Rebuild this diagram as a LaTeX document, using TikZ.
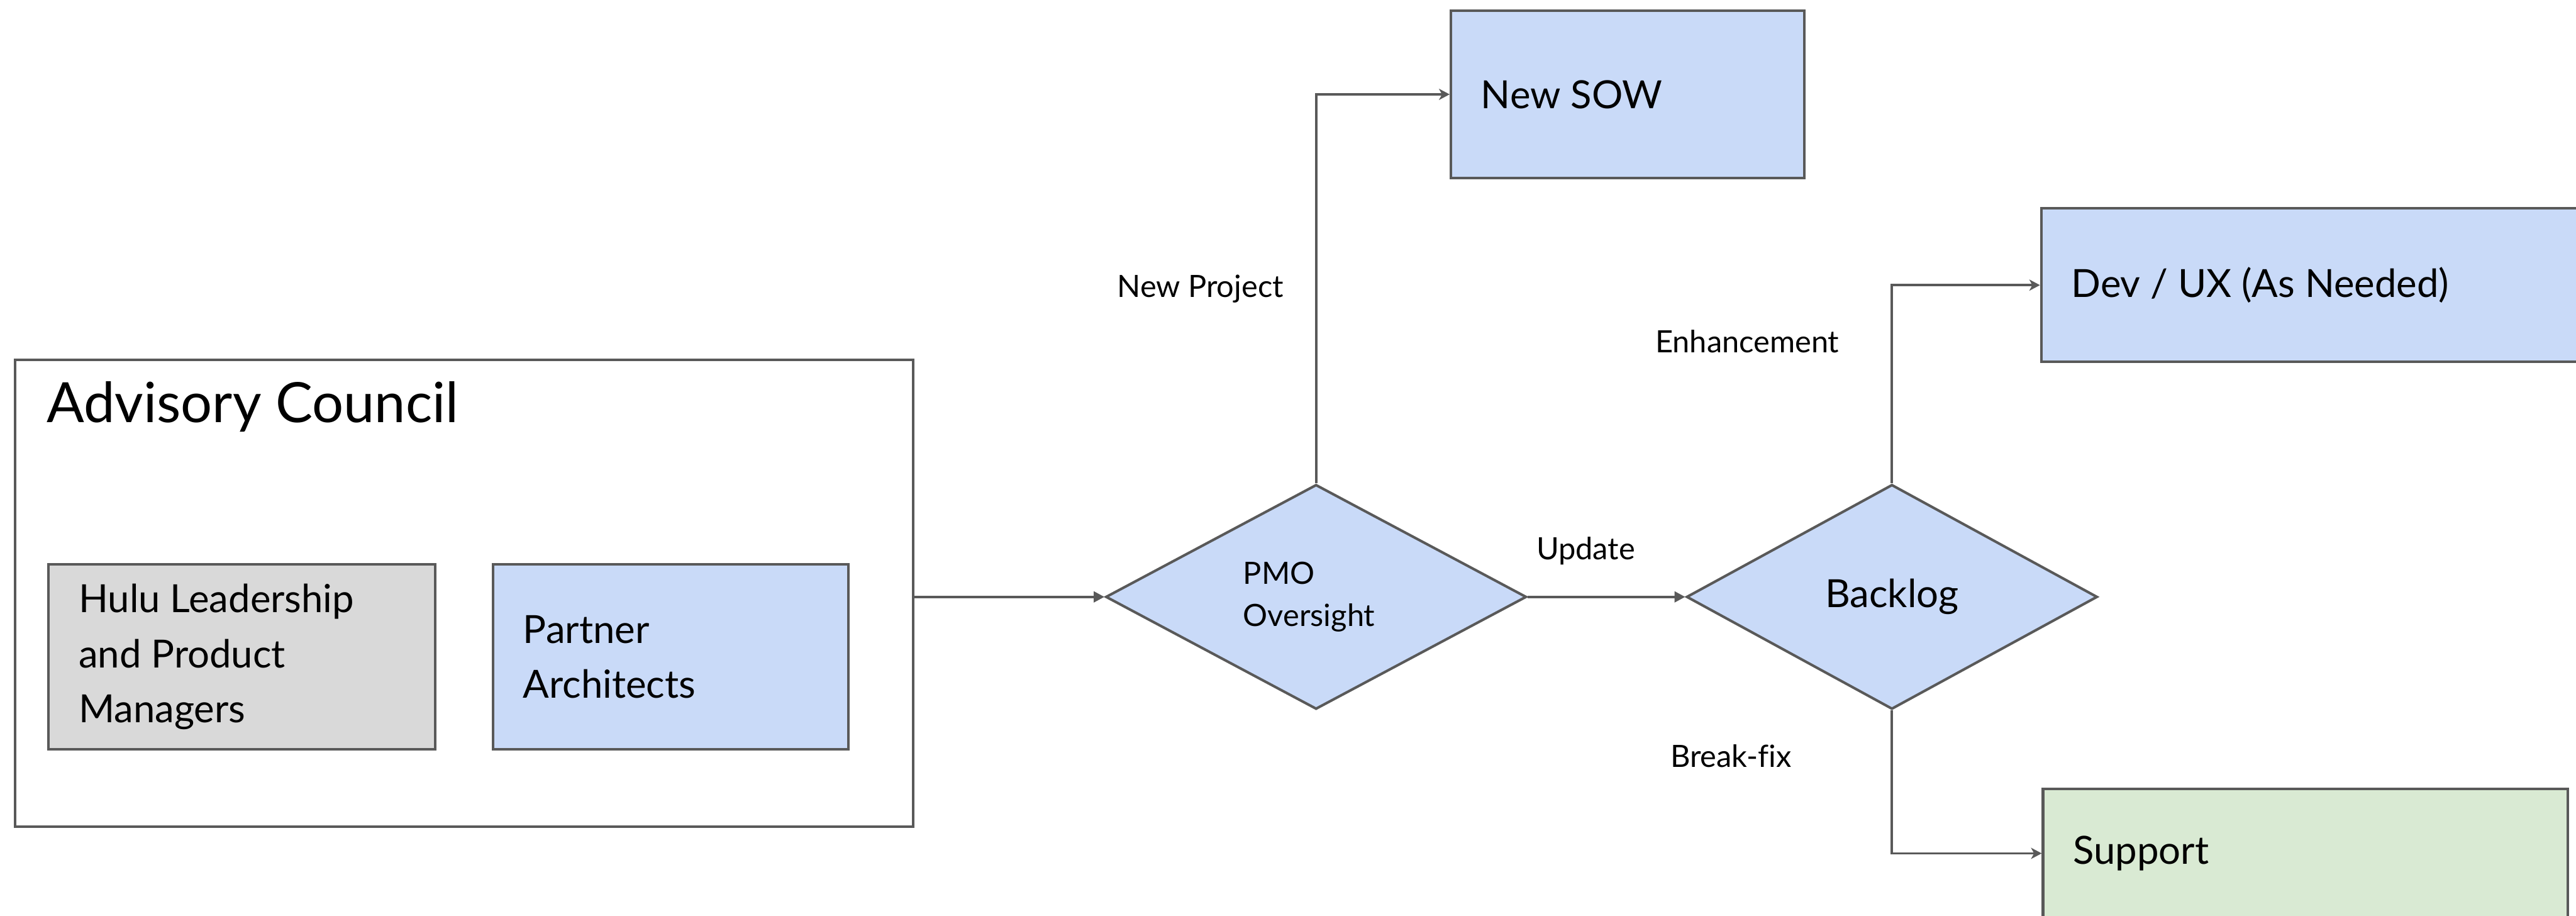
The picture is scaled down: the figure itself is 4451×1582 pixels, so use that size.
\documentclass[tikz,border=0pt]{standalone}
\usepackage{fontspec}
\setmainfont{Lato}[Ligatures=NoCommon]
\usetikzlibrary{arrows.meta,shapes.geometric}

\definecolor{edge}{HTML}{595959}
\definecolor{bluefill}{HTML}{C9DAF8}
\definecolor{grayfill}{HTML}{D9D9D9}
\definecolor{greenfill}{HTML}{D9EAD3}

\tikzset{
  bigtext/.style={font=\fontsize{16.75pt}{23.75pt}\selectfont},
  smalltext/.style={font=\fontsize{13.25pt}{18pt}\selectfont},
  box/.style={draw=edge, line width=1.1pt, rectangle, align=left,
    inner xsep=13pt, inner ysep=0pt, bigtext,
    execute at begin node={\spaceskip=0pt\xspaceskip=0pt\relax}},
  decision/.style={draw=edge, line width=1.1pt, diamond, fill=bluefill,
    inner sep=0pt, align=left},
  flow/.style={draw=edge, line width=1pt},
  tri/.style={flow, -{Triangle[length=4.6pt,width=4.6pt]}},
  stl/.style={flow, -{Stealth[length=4.6pt,width=4.8pt,inset=1.3pt]}},
  lbl/.style={smalltext, anchor=base, inner sep=0pt},
}

\begin{document}
\begin{tikzpicture}[x=0.25pt, y=-0.25pt]
  \useasboundingbox (0,0) rectangle (4451,1582);
  \clip (0,0) rectangle (4451,1582);

  % Advisory council group
  \node[box, minimum width=388pt, minimum height=201.5pt] (adv) at (802,1025) {};
  \node[anchor=base west, inner sep=0pt, font=\fontsize{24pt}{28pt}\selectfont]
    (advtitle) at (80,730) {Advisory Council};
  \node[box, fill=grayfill, minimum width=167pt, minimum height=79.75pt,
        text width=141pt] (hulu) at (418,1134.5)
    {Hulu Leadership\\and Product\\Managers};
  \node[box, fill=bluefill, minimum width=153.5pt, minimum height=79.75pt,
        text width=127.5pt] (partner) at (1159,1134.5)
    {Partner\\Architects};

  % Decisions
  \node[decision, minimum width=181.75pt, minimum height=97pt, smalltext]
    (pmo) at (2274,1031) {PMO\\Oversight\hspace*{6pt}};
  \node[decision, minimum width=177.5pt, minimum height=97pt, bigtext]
    (backlog) at (3269,1031) {Backlog};

  % Outcomes
  \node[box, fill=bluefill, minimum width=152.75pt, minimum height=72.5pt,
        text width=126.75pt] (sow) at (2812.5,163) {New SOW};
  \node[box, fill=bluefill, minimum width=235.75pt, minimum height=66.25pt,
        text width=209.75pt] (dev) at (3998.5,492.5) {Dev / UX (As Needed)};
  \node[box, fill=greenfill, minimum width=226.75pt, minimum height=55.5pt,
        text width=200.75pt] (support) at (3983.5,1474) {Support};

  % Connectors
  \draw[tri] (pmo.west -| adv.east) -- (pmo.west);
  \draw[tri] (pmo.east) -- (backlog.west);
  \draw[stl] (pmo.north) |- (sow.west);
  \draw[stl] (backlog.north) |- (dev.west);
  \draw[stl] (backlog.south) |- (support.west);

  % Labels
  \node[lbl] (lnew) at (2074,513) {New Project};
  \node[lbl] (lupd) at (2740,967) {Update};
  \node[lbl] (lenh) at (3019,609) {Enhancement};
  \node[lbl] (lfix) at (2991,1325) {Break-fix};
\end{tikzpicture}
\end{document}
